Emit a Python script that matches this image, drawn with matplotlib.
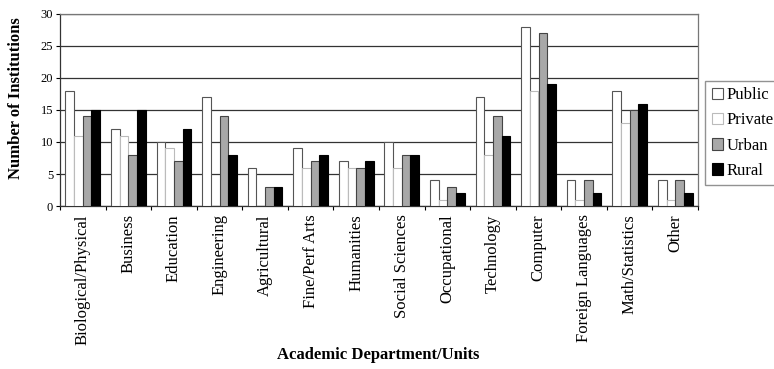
#!/usr/bin/env python3

import numpy as np
from matplotlib import pyplot as plt

plt.rcParams['font.family'] = ['Liberation Serif', 'DejaVu Serif']

depts = ['Biological/Physical', 'Business', 'Education', 'Engineering',
         'Agricultural', 'Fine/Perf Arts', 'Humanities', 'Social Sciences',
         'Occupational', 'Technology', 'Computer', 'Foreign Languages',
         'Math/Statistics', 'Other']
public  = [18, 12, 10, 17, 6, 9, 7, 10, 4, 17, 28, 4, 18, 4]
private = [11, 11, 9, 0, 0, 6, 6, 6, 1, 8, 18, 1, 13, 1]
urban   = [14, 8, 7, 14, 3, 7, 6, 8, 3, 14, 27, 4, 15, 4]
rural   = [15, 15, 12, 8, 3, 8, 7, 8, 2, 11, 19, 2, 16, 2]

SERIES = [('Public', public, 'white', '#555555'),
          ('Private', private, 'white', '#bbbbbb'),
          ('Urban', urban, '#a8a8a8', '#444444'),
          ('Rural', rural, 'black', 'black')]

fig = plt.figure(figsize=(7.74, 3.69), dpi=100)
ax = fig.add_axes([60 / 774, 1 - 206 / 369, 638 / 774, 192 / 369])

x = np.arange(len(depts))
w = 0.19
for i, (name, vals, fc, ec) in enumerate(SERIES):
    ax.bar(x + (i - 1.5) * w, vals, w, color=fc, edgecolor=ec, lw=0.8,
           label=name, zorder=3)

ax.set_xlim(-0.5, len(depts) - 0.5)
ax.set_ylim(0, 30)
ax.set_yticks(range(0, 31, 5))
ax.yaxis.grid(True, color='#333333', lw=0.9, zorder=0)
ax.tick_params(axis='y', labelsize=9, length=3, pad=2)

# category labels sit at the centres, tick marks at the group boundaries
ax.set_xticks(np.arange(len(depts) + 1) - 0.5)
ax.set_xticklabels([])
ax.set_xticks(x, minor=True)
ax.set_xticklabels(depts, minor=True, rotation=90, fontsize=12)
ax.tick_params(axis='x', which='minor', length=0, pad=6)
ax.tick_params(axis='x', which='major', length=3)

for s in ax.spines.values():
    s.set_color('#777777')
    s.set_linewidth(0.9)
ax.spines['left'].set_color('#333333')
ax.spines['bottom'].set_color('#333333')

ax.set_ylabel('Number of Institutions', fontsize=12, fontweight='bold')
ax.yaxis.set_label_coords(-36 / 638, (206 - 98) / 192)
fig.text(378 / 774, 1 - 355 / 369, 'Academic Department/Units', fontsize=12,
         fontweight='bold', ha='center', va='center')

fig.legend(loc='center left', bbox_to_anchor=(705 / 774, 1 - 133 / 369),
           fontsize=12, frameon=True, fancybox=False, edgecolor='#777777',
           handlelength=0.7, handleheight=0.7, handletextpad=0.2,
           labelspacing=0.55, borderpad=0.4, borderaxespad=0)

plt.savefig('out.png', dpi=100)
